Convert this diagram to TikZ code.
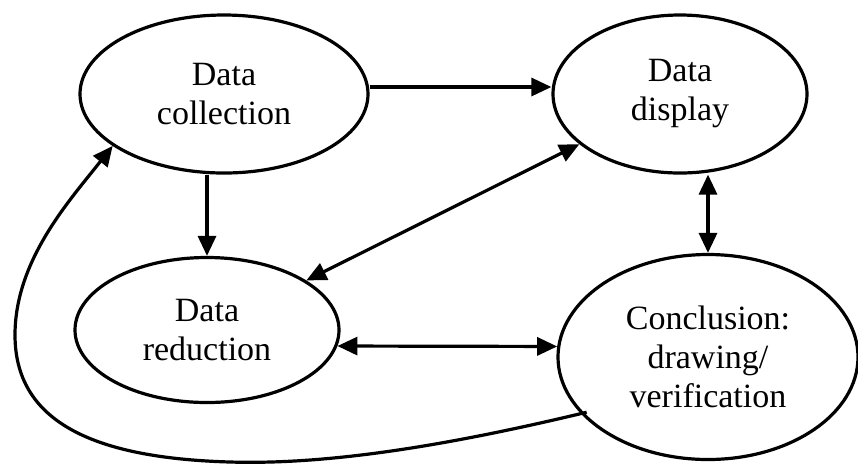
\documentclass[tikz,border=0pt]{standalone}
\usepackage{fontspec}
\setmainfont{Liberation Serif}
\usepackage{tikz}
\usetikzlibrary{shapes}
\usetikzlibrary{arrows.meta}
\tikzset{ stage_node/.style = {ellipse, draw, line width=1.6pt, align=center, inner sep=0pt} }
\tikzset{ one_way/.style = {line width=1.6pt, -{Triangle[length=10pt,width=9pt]}} }
\tikzset{ two_way/.style = {line width=1.6pt, {Triangle[length=10pt,width=9pt]}-{Triangle[length=10pt,width=9pt]}} }

\begin{document}
\begin{tikzpicture}[x=0.5pt, y=-0.5pt, font=\fontsize{17}{19.5}\selectfont]
        \useasboundingbox (0,0) rectangle (858,463);
        \node[stage_node, minimum width=144pt, minimum height=79pt] (DC) at (224,94) {Data\\collection};
        \node[stage_node, minimum width=127pt, minimum height=79pt] (DD) at (680,94) {Data\\display};
        \node[stage_node, minimum width=132pt, minimum height=72.5pt] (DR) at (207,330) {Data\\reduction};
        \node[stage_node, minimum width=150pt, minimum height=102.5pt] (CV) at (708,357) {Conclusion:\\drawing/\\verification};
        \draw[one_way] ([yshift=3.5pt]DC.east) -- ([yshift=3.5pt]DD.west);
        \draw[one_way] (DR.north |- DC.south) -- (DR.north);
        \draw[two_way] (DR) -- (DD);
        \draw[two_way] (DD.south -| CV.north) -- (CV.north);
        \draw[two_way] (DR.-7) -- (CV.176);
        \draw[one_way, shorten <=-3pt] (CV.204) .. controls (450,445) and (330,465) .. (230,462)
                .. controls (90,458) and (15,420) .. (15,335)
                .. controls (15,260) and (70,200) .. (DC.205);
\end{tikzpicture}
\end{document}
